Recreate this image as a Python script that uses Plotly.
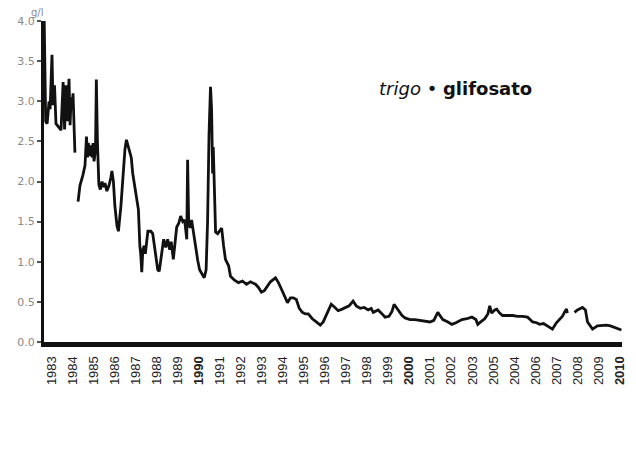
import plotly.graph_objects as go

# decimal years and price values (g/l); None = gap in the series
years = [
    1982.64, 1982.71, 1982.78, 1982.87, 1982.92, 1983.01, 1983.06, 1983.13, 1983.20, 1983.30,
    1983.44, 1983.54, 1983.61, 1983.68, 1983.73, 1983.82, 1983.87, 1983.92, 1983.96, 1984.01,
    1984.06, 1984.10, 1984.17,
    1984.25, 1984.34, 1984.48, 1984.58, 1984.65, 1984.70, 1984.74, 1984.79, 1984.86, 1984.91,
    1984.96, 1985.01, 1985.08, 1985.12, 1985.17, 1985.24, 1985.31, 1985.39, 1985.46, 1985.53,
    1985.62, 1985.72, 1985.81, 1985.86, 1985.93, 1986.00, 1986.10, 1986.17, 1986.29, 1986.38,
    1986.48, 1986.55, 1986.62, 1986.69, 1986.78, 1986.85, 1986.95, 1987.04, 1987.12, 1987.19,
    1987.23, 1987.28, 1987.33, 1987.40, 1987.45, 1987.57, 1987.71, 1987.80, 1987.87, 1987.95,
    1988.04, 1988.11, 1988.23, 1988.32, 1988.42, 1988.51, 1988.61, 1988.68, 1988.78, 1988.87,
    1988.94, 1989.04, 1989.13, 1989.23, 1989.32, 1989.42, 1989.46, 1989.51, 1989.58, 1989.65,
    1989.75, 1989.84, 1989.94, 1990.03, 1990.13, 1990.25, 1990.34, 1990.41, 1990.48, 1990.55,
    1990.60, 1990.65, 1990.68, 1990.72, 1990.79, 1990.89, 1990.98, 1991.08, 1991.17, 1991.26,
    1991.41, 1991.50, 1991.69, 1991.88, 1992.07, 1992.26, 1992.45, 1992.69, 1992.83, 1992.97,
    1993.11, 1993.21, 1993.40, 1993.64, 1993.78, 1993.92, 1994.07, 1994.21, 1994.35, 1994.49,
    1994.63, 1994.77, 1994.92, 1995.06, 1995.20, 1995.39, 1995.58, 1995.77, 1995.91, 1996.05,
    1996.20, 1996.29, 1996.43, 1996.62, 1996.81, 1996.95, 1997.14, 1997.33, 1997.48, 1997.67,
    1997.86, 1998.05, 1998.19, 1998.29, 1998.52, 1998.71, 1998.85, 1999.04, 1999.18, 1999.28,
    1999.47, 1999.66, 1999.80, 2000.04, 2000.27, 2000.51, 2000.75, 2000.99, 2001.17, 2001.36,
    2001.46, 2001.60, 2001.84, 2002.03, 2002.22, 2002.51, 2002.74, 2002.98, 2003.17, 2003.26,
    2003.40, 2003.59, 2003.74, 2003.83, 2003.92, 2004.07, 2004.16, 2004.30, 2004.44, 2004.68,
    2004.92, 2005.16, 2005.39, 2005.63, 2005.87, 2006.06, 2006.20, 2006.39, 2006.58, 2006.81,
    2007.00, 2007.14, 2007.29, 2007.38, 2007.48, 2007.52, 2007.70,
    2007.86, 2008.00, 2008.24, 2008.38, 2008.48, 2008.72, 2008.95, 2009.19, 2009.38, 2009.57,
    2009.76, 2009.95, 2010.09,
]
values = [
    4.00, 2.75, 2.72, 3.00, 2.90, 3.58, 2.95, 3.20, 2.72, 2.68,
    2.64, 3.24, 2.65, 3.20, 2.75, 3.28, 2.70, 3.05, 2.90, 3.10,
    2.70, 2.36, None,
    1.75, 1.95, 2.08, 2.20, 2.56, 2.30, 2.48, 2.32, 2.45, 2.30,
    2.48, 2.25, 2.40, 3.27, 2.50, 1.96, 1.90, 2.00, 1.93, 1.98,
    1.88, 1.95, 2.05, 2.13, 2.00, 1.70, 1.45, 1.38, 1.70, 2.10,
    2.40, 2.52, 2.45, 2.36, 2.30, 2.10, 1.95, 1.80, 1.65, 1.19,
    1.10, 0.87, 1.15, 1.20, 1.10, 1.38, 1.38, 1.35, 1.20, 1.03,
    0.90, 0.88, 1.10, 1.28, 1.18, 1.28, 1.15, 1.25, 1.03, 1.28,
    1.43, 1.48, 1.57, 1.50, 1.52, 1.28, 2.27, 1.50, 1.42, 1.52,
    1.35, 1.15, 1.02, 0.90, 0.85, 0.80, 0.90, 1.50, 2.60, 3.18,
    2.90, 2.10, 2.43, 2.00, 1.37, 1.35, 1.38, 1.42, 1.20, 1.03,
    0.95, 0.82, 0.77, 0.74, 0.76, 0.72, 0.75, 0.72, 0.68, 0.62,
    0.64, 0.68, 0.75, 0.80, 0.74, 0.66, 0.58, 0.49, 0.55, 0.55,
    0.53, 0.42, 0.37, 0.35, 0.35, 0.29, 0.25, 0.21, 0.25, 0.33,
    0.40, 0.47, 0.44, 0.39, 0.41, 0.43, 0.45, 0.51, 0.45, 0.42,
    0.43, 0.40, 0.42, 0.37, 0.40, 0.35, 0.31, 0.32, 0.38, 0.47,
    0.40, 0.33, 0.30, 0.28, 0.28, 0.27, 0.26, 0.25, 0.27, 0.37,
    0.33, 0.28, 0.25, 0.22, 0.24, 0.28, 0.29, 0.31, 0.28, 0.22,
    0.25, 0.29, 0.35, 0.45, 0.36, 0.40, 0.41, 0.36, 0.33, 0.33,
    0.33, 0.32, 0.32, 0.31, 0.25, 0.24, 0.22, 0.23, 0.20, 0.16,
    0.24, 0.28, 0.32, 0.37, 0.41, 0.36, None,
    0.37, 0.40, 0.43, 0.40, 0.25, 0.16, 0.20, 0.21, 0.21, 0.20,
    0.18, 0.16, 0.15,
]

tick_years = list(range(1983, 2011))
tick_labels = [
    "1983", "1984", "1985", "1986", "1987", "1988", "1989", "<b>1990</b>",
    "1991", "1992", "1993", "1994", "1995", "1996", "1997", "1998", "1999",
    "<b>2000</b>", "2001", "2002", "2003", "2005", "2004", "2006", "2007",
    "2008", "2009", "<b>2010</b>",
]
y_ticks = [0.0, 0.5, 1.0, 1.5, 2.0, 2.5, 3.0, 3.5, 4.0]

fig = go.Figure()
fig.add_trace(go.Scatter(
    x=years, y=values, mode="lines",
    line=dict(color="#111111", width=2.8),
    connectgaps=False, showlegend=False, hoverinfo="skip",
))

# page body adds an 8px offset, so the figure is sized/margined to compensate
fig.update_layout(
    width=628, height=442,
    margin=dict(l=36, r=14, t=13, b=108),
    paper_bgcolor="white", plot_bgcolor="white",
    xaxis=dict(
        range=[1982.63, 2010.12], automargin=False,
        tickmode="array", tickvals=tick_years, ticktext=tick_labels,
        tickangle=-90, ticks="", ticklabelstandoff=4,
        showgrid=False, zeroline=False,
        showline=True, linecolor="#111111", linewidth=5,
        tickfont=dict(family="Liberation Sans, Arial", size=13, color="#222222"),
    ),
    yaxis=dict(
        range=[0, 4.0], automargin=False,
        tickmode="array", tickvals=y_ticks,
        ticktext=[f"{v:.1f}" for v in y_ticks],
        ticks="outside", ticklen=4, tickcolor="#555555", tickwidth=1.5,
        showgrid=False, zeroline=False,
        showline=True, linecolor="#111111", linewidth=3,
        tickfont=dict(family="DejaVu Sans", size=11, color="#8a8a8a"),
    ),
    annotations=[
        dict(text="g/l", xref="paper", yref="paper", x=-0.012, y=1.025,
             xanchor="center", yanchor="middle", showarrow=False,
             font=dict(family="DejaVu Sans", size=10, color="#8a8a8a")),
        dict(text="<i>trigo</i> • <b>glifosato</b>", xref="paper", yref="paper",
             x=0.7116, y=0.791, xanchor="center", yanchor="middle", showarrow=False,
             font=dict(family="DejaVu Sans", size=18, color="#111111")),
    ],
)

fig.write_html("out.html")
